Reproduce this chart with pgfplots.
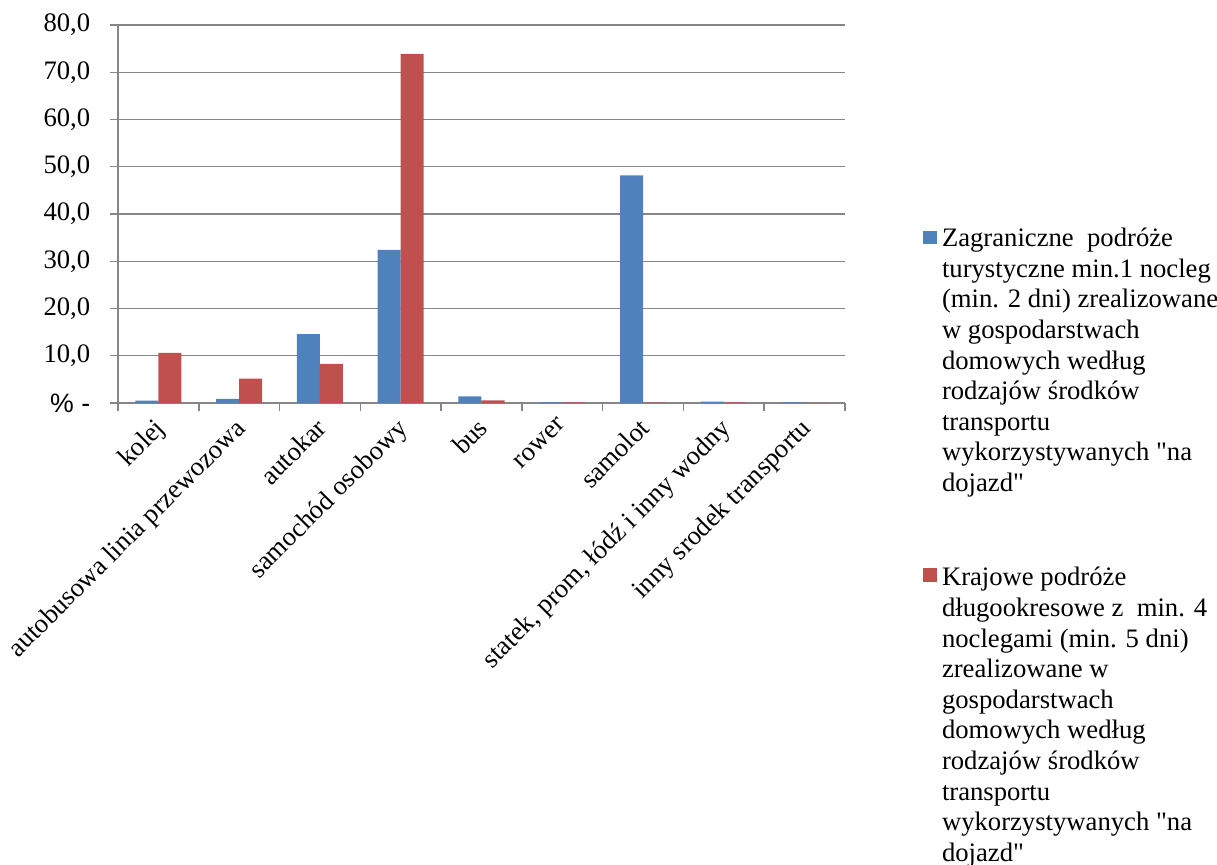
\documentclass[border=0pt]{standalone}
\usepackage{fontspec}
\setmainfont{Liberation Serif}[Ligatures=TeXOff]
\newfontfamily\arialfont{Liberation Sans}
\usepackage{pgfplots}
\pgfplotsset{compat=1.18}
\definecolor{bblue}{HTML}{4F81BD}
\definecolor{bred}{HTML}{C0504D}
\definecolor{axgray}{HTML}{868686}
\newcommand{\bigfont}{\fontsize{20pt}{22.95pt}\selectfont}
\begin{document}
\bigfont
\begin{tikzpicture}
\useasboundingbox (-88.5pt,-345.75pt) rectangle (824.25pt,302.25pt);
\begin{axis}[
  scale only axis, width=545.25pt, height=283.5pt,
  xmin=-0.5, xmax=8.5, ymin=0, ymax=80,
  axis x line*=bottom, axis y line*=left,
  axis line style={axgray, line width=1.1pt},
  tick align=outside, major tick length=6pt,
  tick style={axgray, line width=1.1pt},
  ymajorgrids, major grid style={axgray, line width=1.1pt},
  ytick={0,10,...,80},
  yticklabels={{\arialfont\%~-},{10,0},{20,0},{30,0},{40,0},{50,0},{60,0},{70,0},{80,0}},
  yticklabel style={font=\bigfont, xshift=-8pt},
  xtick={-0.5,0.5,...,8.5}, xticklabels={},
  extra x ticks={0,1,2,3,4,5,6,7,8},
  extra x tick labels={kolej,autobusowa linia przewozowa,autokar,samochód osobowy,bus,rower,samolot,{statek, prom, łódź i inny wodny},inny srodek transportu},
  extra x tick style={major tick length=0pt, tick style={draw=none},
    xticklabel style={font=\bigfont, xshift=-4pt, yshift=-10pt, rotate=45, anchor=north east, inner sep=0pt}},
  ybar, bar width=0.285, 
]
\addplot[fill=bblue, draw=none, bar shift=-0.1425] coordinates {
 (0,0.5) (1,0.85) (2,14.6) (3,32.4) (4,1.4) (5,0.15) (6,48.2) (7,0.3) (8,0.15)};
\addplot[fill=bred, draw=none, bar shift=0.1425] coordinates {
 (0,10.6) (1,5.15) (2,8.3) (3,73.9) (4,0.55) (5,0.15) (6,0.1) (7,0.15) (8,0.05)};
\end{axis}
\fill[bblue] (603.5pt,119.2pt) rectangle (614pt,129.2pt);
\node[anchor=base west, inner sep=0pt] at (617.8pt,117.2pt) {\parbox[t]{210pt}{\bigfont\raggedright
Zagraniczne~ podróże\\
turystyczne min.1 nocleg\\
(min. 2 dni) zrealizowane\\
w gospodarstwach\\
domowych według\\
rodzajów środków\\
transportu\\
wykorzystywanych "na\\
dojazd"}};
\fill[bred] (603.5pt,-134pt) rectangle (614pt,-124pt);
\node[anchor=base west, inner sep=0pt] at (617.8pt,-137.1pt) {\parbox[t]{210pt}{\bigfont\raggedright
Krajowe podróże\\
długookresowe z~ min. 4\\
noclegami (min. 5 dni)\\
zrealizowane w\\
gospodarstwach\\
domowych według\\
rodzajów środków\\
transportu\\
wykorzystywanych "na\\
dojazd"}};
\end{tikzpicture}
\end{document}
